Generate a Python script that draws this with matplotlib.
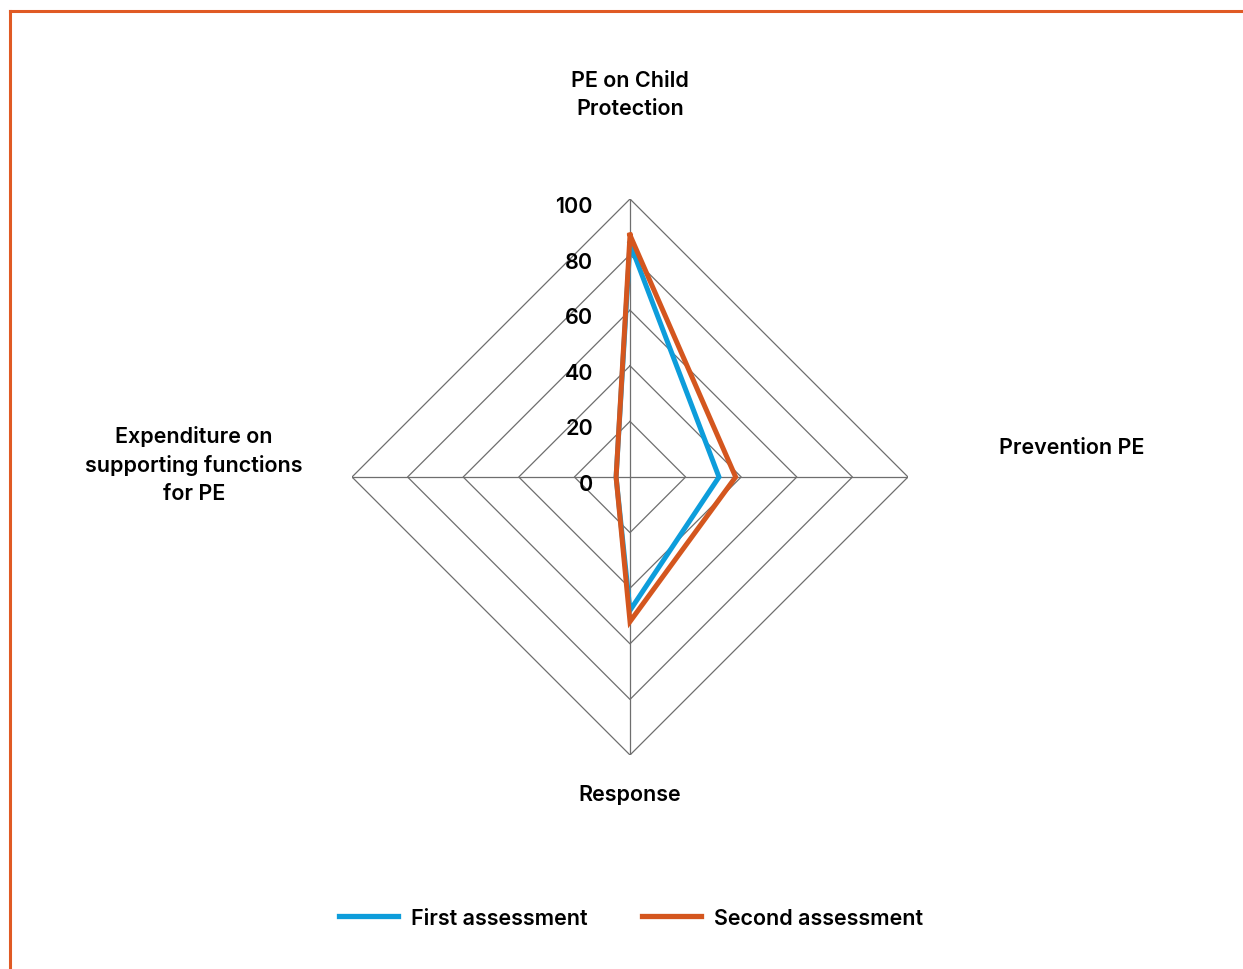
import numpy as np
import matplotlib
matplotlib.use("Agg")
import matplotlib.pyplot as plt
from matplotlib.lines import Line2D
import matplotlib.transforms as mtransforms

plt.rcParams["font.family"] = ["Inter", "DejaVu Sans"]

categories = ["PE on Child\nProtection", "Prevention PE", "Response",
              "Expenditure on\nsupporting functions\nfor PE"]
first_assessment = [84, 32, 48, 5]
second_assessment = [87, 38, 52, 5]
levels = [0, 20, 40, 60, 80, 100]

blue = "#0D9DDB"
orange = "#D4561E"
grid_col = "#6e6e6e"
weight = "semibold"

W, H = 1243, 970
fig = plt.figure(figsize=(W / 100, H / 100), dpi=100)

cx, cy, r = 630, 478, 278
ax = fig.add_axes([(cx - r) / W, (H - cy - r) / H, 2 * r / W, 2 * r / H],
                  projection="polar")
ax.set_theta_offset(np.pi / 2)
ax.set_theta_direction(-1)
ax.set_ylim(0, 100)
ax.grid(False)
ax.spines["polar"].set_visible(False)
ax.set_xticks([])
ax.set_yticks([])
ax.patch.set_alpha(0)

angles = np.arange(len(categories)) * 2 * np.pi / len(categories)
closed = np.append(angles, angles[0])

# diamond grid and spokes
for lv in levels[1:]:
    ax.plot(closed, [lv] * len(closed), color=grid_col, lw=0.9, zorder=1)
for a in angles:
    ax.plot([a, a], [0, 100], color=grid_col, lw=0.9, zorder=1)

# value labels along the top spoke
offset = mtransforms.offset_copy(ax.transData, fig=fig, x=-37, y=-7, units="dots")
for lv in levels:
    ax.text(0, lv, str(lv), transform=offset, ha="right", va="center",
            fontsize=15.5, fontweight=weight, color="black")

ax.plot(closed, first_assessment + first_assessment[:1], color=blue, lw=3.6,
        solid_joinstyle="miter", zorder=3, label="First assessment")
ax.plot(closed, second_assessment + second_assessment[:1], color=orange, lw=3.6,
        solid_joinstyle="miter", zorder=4, label="Second assessment")

# category labels
label_pos = [(630, 95), (1072, 448), (630, 795), (194, 465)]
for text, (x, y) in zip(categories, label_pos):
    fig.text(x / W, 1 - y / H, text, ha="center", va="center", fontsize=15.5,
             fontweight=weight, linespacing=1.5)

handles = [Line2D([], [], color=blue, lw=3.8), Line2D([], [], color=orange, lw=3.8)]
fig.legend(handles, ["First assessment", "Second assessment"], loc="center",
           bbox_to_anchor=(631 / W, 1 - 919 / H), ncol=2, frameon=False,
           prop={"size": 15.5, "weight": weight},
           handlelength=2.75, handletextpad=0.6, columnspacing=2.5)

# frame lines on the left and top
fig.add_artist(Line2D([10.5 / W, 10.5 / W], [0, 1 - 12 / H], color="#E05A24", lw=2.2,
                      transform=fig.transFigure))
fig.add_artist(Line2D([10.5 / W, 1], [1 - 12 / H, 1 - 12 / H], color="#E05A24", lw=2.2,
                      transform=fig.transFigure))

fig.savefig("out.png", dpi=100, facecolor="white")
